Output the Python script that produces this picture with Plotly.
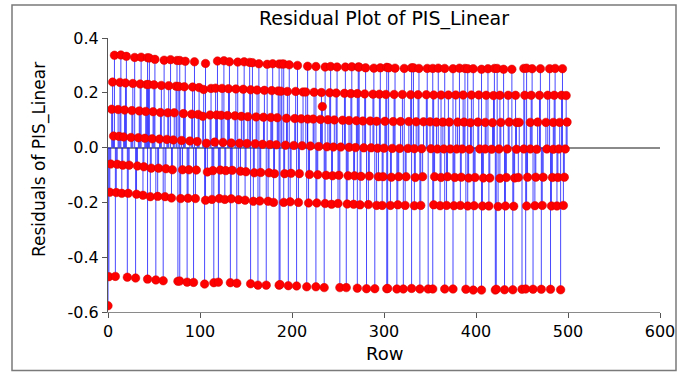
import plotly.graph_objects as go

# Residuals of the PIS_Linear model by row, grouped by the horizontal band they fall in.
rows_b1 = [7, 14, 20, 29, 36, 43, 45, 51, 61, 68, 75, 78, 84, 94, 106, 119, 126, 132, 141, 148,
           154, 157, 164, 173, 179, 186, 189, 191, 197, 206, 217, 226, 236, 242, 249, 258, 265, 272, 273, 280,
           289, 296, 303, 305, 312, 322, 330, 332, 338, 347, 353, 359, 366, 375, 382, 388, 391, 397, 406, 413,
           420, 423, 430, 439, 452, 455, 461, 470, 480, 486, 494]
res_b1 = [0.337, 0.338, 0.333, 0.329, 0.330, 0.328, 0.327, 0.322, 0.319, 0.321, 0.318, 0.318, 0.315, 0.313, 0.307, 0.316, 0.317, 0.313, 0.312, 0.313,
          0.311, 0.310, 0.306, 0.304, 0.306, 0.305, 0.305, 0.305, 0.302, 0.300, 0.297, 0.296, 0.294, 0.296, 0.294, 0.294, 0.295, 0.294, 0.294, 0.291,
          0.290, 0.291, 0.293, 0.291, 0.290, 0.289, 0.291, 0.291, 0.289, 0.289, 0.289, 0.290, 0.289, 0.288, 0.290, 0.289, 0.288, 0.288, 0.286, 0.288,
          0.289, 0.289, 0.286, 0.286, 0.289, 0.290, 0.288, 0.288, 0.288, 0.289, 0.288]

rows_b2 = [5, 13, 19, 27, 35, 42, 44, 50, 58, 66, 74, 77, 83, 92, 99, 104, 112, 117, 124, 131,
           139, 147, 155, 162, 170, 178, 185, 188, 195, 204, 212, 215, 224, 232, 241, 248, 257, 264, 271, 279,
           288, 295, 302, 311, 320, 329, 337, 346, 354, 362, 370, 378, 386, 395, 403, 411, 419, 426, 435, 443,
           453, 460, 469, 478, 485, 493, 498]
res_b2 = [0.239, 0.238, 0.236, 0.234, 0.232, 0.230, 0.230, 0.229, 0.227, 0.226, 0.224, 0.223, 0.222, 0.221, 0.219, 0.212, 0.216, 0.217, 0.216, 0.215,
          0.214, 0.213, 0.211, 0.210, 0.209, 0.208, 0.207, 0.206, 0.205, 0.205, 0.203, 0.203, 0.202, 0.201, 0.200, 0.199, 0.198, 0.197, 0.197, 0.196,
          0.195, 0.195, 0.194, 0.194, 0.194, 0.193, 0.193, 0.193, 0.192, 0.192, 0.192, 0.192, 0.192, 0.192, 0.192, 0.191, 0.190, 0.191, 0.191, 0.191,
          0.191, 0.191, 0.191, 0.191, 0.191, 0.191, 0.190]

rows_b3 = [4, 11, 18, 26, 34, 41, 49, 57, 65, 72, 82, 91, 98, 103, 111, 118, 123, 130, 138, 145,
           152, 161, 169, 177, 184, 194, 203, 210, 217, 223, 231, 239, 246, 255, 262, 270, 277, 285, 292, 301,
           310, 318, 327, 335, 343, 350, 357, 364, 371, 380, 387, 394, 402, 410, 418, 427, 436, 444, 447, 459,
           467, 476, 484, 491, 499]
res_b3 = [0.140, 0.139, 0.137, 0.135, 0.134, 0.132, 0.131, 0.128, 0.127, 0.127, 0.124, 0.122, 0.121, 0.114, 0.119, 0.119, 0.118, 0.117, 0.116, 0.114,
          0.113, 0.112, 0.111, 0.110, 0.109, 0.107, 0.106, 0.105, 0.104, 0.104, 0.103, 0.102, 0.101, 0.100, 0.099, 0.098, 0.097, 0.097, 0.096, 0.096,
          0.095, 0.095, 0.095, 0.094, 0.094, 0.094, 0.093, 0.093, 0.093, 0.093, 0.093, 0.091, 0.093, 0.092, 0.091, 0.092, 0.093, 0.092, 0.092, 0.092,
          0.093, 0.092, 0.092, 0.092, 0.093]

rows_b4 = [6, 12, 17, 25, 33, 40, 48, 56, 64, 71, 80, 89, 97, 107, 116, 125, 134, 143, 151, 160,
           168, 176, 183, 193, 202, 211, 220, 229, 238, 245, 253, 262, 269, 278, 286, 293, 300, 309, 317, 326,
           333, 341, 351, 358, 365, 372, 379, 385, 393, 404, 410, 417, 425, 434, 444, 452, 459, 466, 477, 484,
           490, 497]
res_b4 = [0.042, 0.041, 0.039, 0.037, 0.036, 0.034, 0.032, 0.031, 0.030, 0.028, 0.026, 0.024, 0.022, 0.016, 0.020, 0.019, 0.017, 0.016, 0.015, 0.014,
          0.012, 0.011, 0.010, 0.009, 0.008, 0.007, 0.006, 0.004, 0.003, 0.002, 0.002, 0.001, 0.000, -0.001, -0.001, -0.002, -0.002, -0.003, -0.003, -0.003,
          -0.004, -0.004, -0.004, -0.005, -0.005, -0.005, -0.005, -0.005, -0.006, -0.005, -0.005, -0.006, -0.005, -0.005, -0.006, -0.005, -0.005, -0.006, -0.005, -0.006,
          -0.005, -0.005]

rows_b5 = [3, 10, 16, 23, 32, 39, 47, 55, 63, 70, 81, 88, 96, 108, 114, 122, 128, 135, 144, 150,
           159, 166, 175, 181, 192, 199, 208, 219, 228, 237, 244, 251, 261, 268, 275, 284, 294, 299, 308, 316,
           324, 334, 342, 355, 362, 369, 377, 384, 392, 399, 408, 415, 426, 433, 442, 446, 456, 465, 473, 483,
           489, 496]
res_b5 = [-0.060, -0.061, -0.064, -0.064, -0.067, -0.070, -0.075, -0.075, -0.077, -0.081, -0.081, -0.081, -0.082, -0.089, -0.084, -0.082, -0.084, -0.083, -0.086, -0.088,
          -0.092, -0.091, -0.092, -0.095, -0.095, -0.094, -0.095, -0.098, -0.099, -0.101, -0.103, -0.101, -0.103, -0.103, -0.105, -0.104, -0.106, -0.106, -0.108, -0.106,
          -0.106, -0.109, -0.106, -0.106, -0.109, -0.106, -0.109, -0.108, -0.111, -0.109, -0.111, -0.111, -0.112, -0.109, -0.111, -0.109, -0.108, -0.108, -0.108, -0.109,
          -0.109, -0.108]

rows_b6 = [2, 9, 15, 22, 31, 38, 46, 54, 62, 69, 79, 87, 95, 106, 113, 121, 127, 134, 142, 149,
           158, 165, 174, 180, 191, 198, 207, 218, 227, 236, 243, 250, 260, 267, 274, 283, 292, 298, 307, 315,
           323, 333, 340, 354, 361, 368, 376, 383, 391, 398, 407, 414, 424, 432, 441, 455, 464, 472, 482, 488,
           495]
res_b6 = [-0.163, -0.164, -0.167, -0.167, -0.170, -0.174, -0.179, -0.178, -0.179, -0.184, -0.186, -0.185, -0.186, -0.192, -0.189, -0.186, -0.189, -0.187, -0.190, -0.192,
          -0.196, -0.195, -0.196, -0.200, -0.200, -0.198, -0.200, -0.202, -0.202, -0.204, -0.207, -0.204, -0.206, -0.207, -0.209, -0.208, -0.211, -0.211, -0.211, -0.209,
          -0.211, -0.212, -0.211, -0.209, -0.212, -0.211, -0.212, -0.211, -0.213, -0.212, -0.213, -0.213, -0.215, -0.213, -0.214, -0.213, -0.212, -0.211, -0.213, -0.213,
          -0.211]

rows_b7 = [1, 8, 21, 30, 43, 52, 60, 76, 78, 86, 93, 105, 115, 120, 133, 140, 155, 163, 172, 186,
           187, 196, 205, 216, 226, 235, 252, 259, 271, 281, 290, 303, 304, 314, 321, 330, 339, 348, 353, 366,
           375, 389, 397, 406, 421, 422, 431, 440, 450, 454, 462, 471, 481, 492]
res_b7 = [-0.471, -0.470, -0.473, -0.476, -0.480, -0.483, -0.486, -0.488, -0.487, -0.491, -0.492, -0.498, -0.493, -0.491, -0.493, -0.495, -0.497, -0.502, -0.502, -0.502,
          -0.500, -0.504, -0.505, -0.508, -0.508, -0.511, -0.511, -0.511, -0.513, -0.515, -0.515, -0.515, -0.514, -0.516, -0.516, -0.514, -0.516, -0.516, -0.516, -0.516,
          -0.516, -0.517, -0.520, -0.520, -0.520, -0.517, -0.519, -0.519, -0.517, -0.516, -0.517, -0.517, -0.517, -0.519]

# two isolated residuals
rows_iso = [0, 233]
res_iso = [-0.577, 0.150]

x_ticks = [0, 100, 200, 300, 400, 500, 600]
y_ticks = [-0.6, -0.4, -0.2, 0.0, 0.2, 0.4]
y_tick_labels = ["-0.6", "-0.4", "-0.2", "0.0", "0.2", "0.4"]

bands = [(rows_b1, res_b1), (rows_b2, res_b2), (rows_b3, res_b3), (rows_b4, res_b4),
         (rows_b5, res_b5), (rows_b6, res_b6), (rows_b7, res_b7), (rows_iso, res_iso)]

rows, resid = [], []
for r, v in bands:
    assert len(r) == len(v), (len(r), len(v))
    rows += r
    resid += v

# vertical stems from zero to each residual
stem_x, stem_y = [], []
for r, v in zip(rows, resid):
    stem_x += [r, r, None]
    stem_y += [0, v, None]

FONT = "DejaVu Sans, Verdana, sans-serif"

fig = go.Figure()
fig.add_trace(go.Scatter(x=stem_x, y=stem_y, mode="lines",
                         line=dict(color="rgba(0,0,255,0.72)", width=1),
                         hoverinfo="skip", showlegend=False))
fig.add_trace(go.Scatter(x=rows, y=resid, mode="markers",
                         marker=dict(color="#ff0000", size=8.5,
                                     line=dict(color="#d40000", width=0.5)),
                         showlegend=False))

fig.update_layout(
    width=688, height=372,
    margin=dict(l=108, r=28, t=38, b=60),
    paper_bgcolor="white", plot_bgcolor="white",
    font=dict(family=FONT, color="black"),
    title=dict(text="Residual Plot of PIS_Linear", x=384 / 688, xanchor="center",
               y=1 - 18 / 372, yanchor="middle", font=dict(size=19, family=FONT, color="black")),
    xaxis=dict(range=[0, 600], tickvals=x_ticks, ticks="outside", ticklen=5, tickcolor="#555",
               showline=True, linecolor="#8a8a8a", linewidth=1, showgrid=False, zeroline=False,
               tickfont=dict(size=16, family=FONT), automargin=False),
    yaxis=dict(range=[-0.6, 0.4], tickvals=y_ticks, ticktext=y_tick_labels, ticks="outside",
               ticklen=5, tickcolor="#555", showline=True, linecolor="#555", linewidth=1,
               showgrid=False, zeroline=True, zerolinecolor="#8a8a8a", zerolinewidth=1.5,
               tickfont=dict(size=16, family=FONT), automargin=False),
    annotations=[
        dict(text="Row", xref="paper", yref="paper", x=0.5, y=(312 - 353) / 274,
             xanchor="center", yanchor="middle", showarrow=False,
             font=dict(size=18, family=FONT, color="black")),
        dict(text="Residuals of PIS_Linear", xref="paper", yref="paper",
             x=(39 - 108) / 552, y=(312 - 160) / 274, textangle=-90,
             xanchor="center", yanchor="middle", showarrow=False,
             font=dict(size=17, family=FONT, color="black")),
    ],
    shapes=[dict(type="rect", xref="paper", yref="paper",
                 x0=(12 - 108) / 552, x1=(676 - 108) / 552,
                 y0=(312 - 370.5) / 274, y1=(312 - 5) / 274,
                 line=dict(color="#7a7a7a", width=1.5), fillcolor="rgba(0,0,0,0)")],
)

fig.write_html("out.html")
